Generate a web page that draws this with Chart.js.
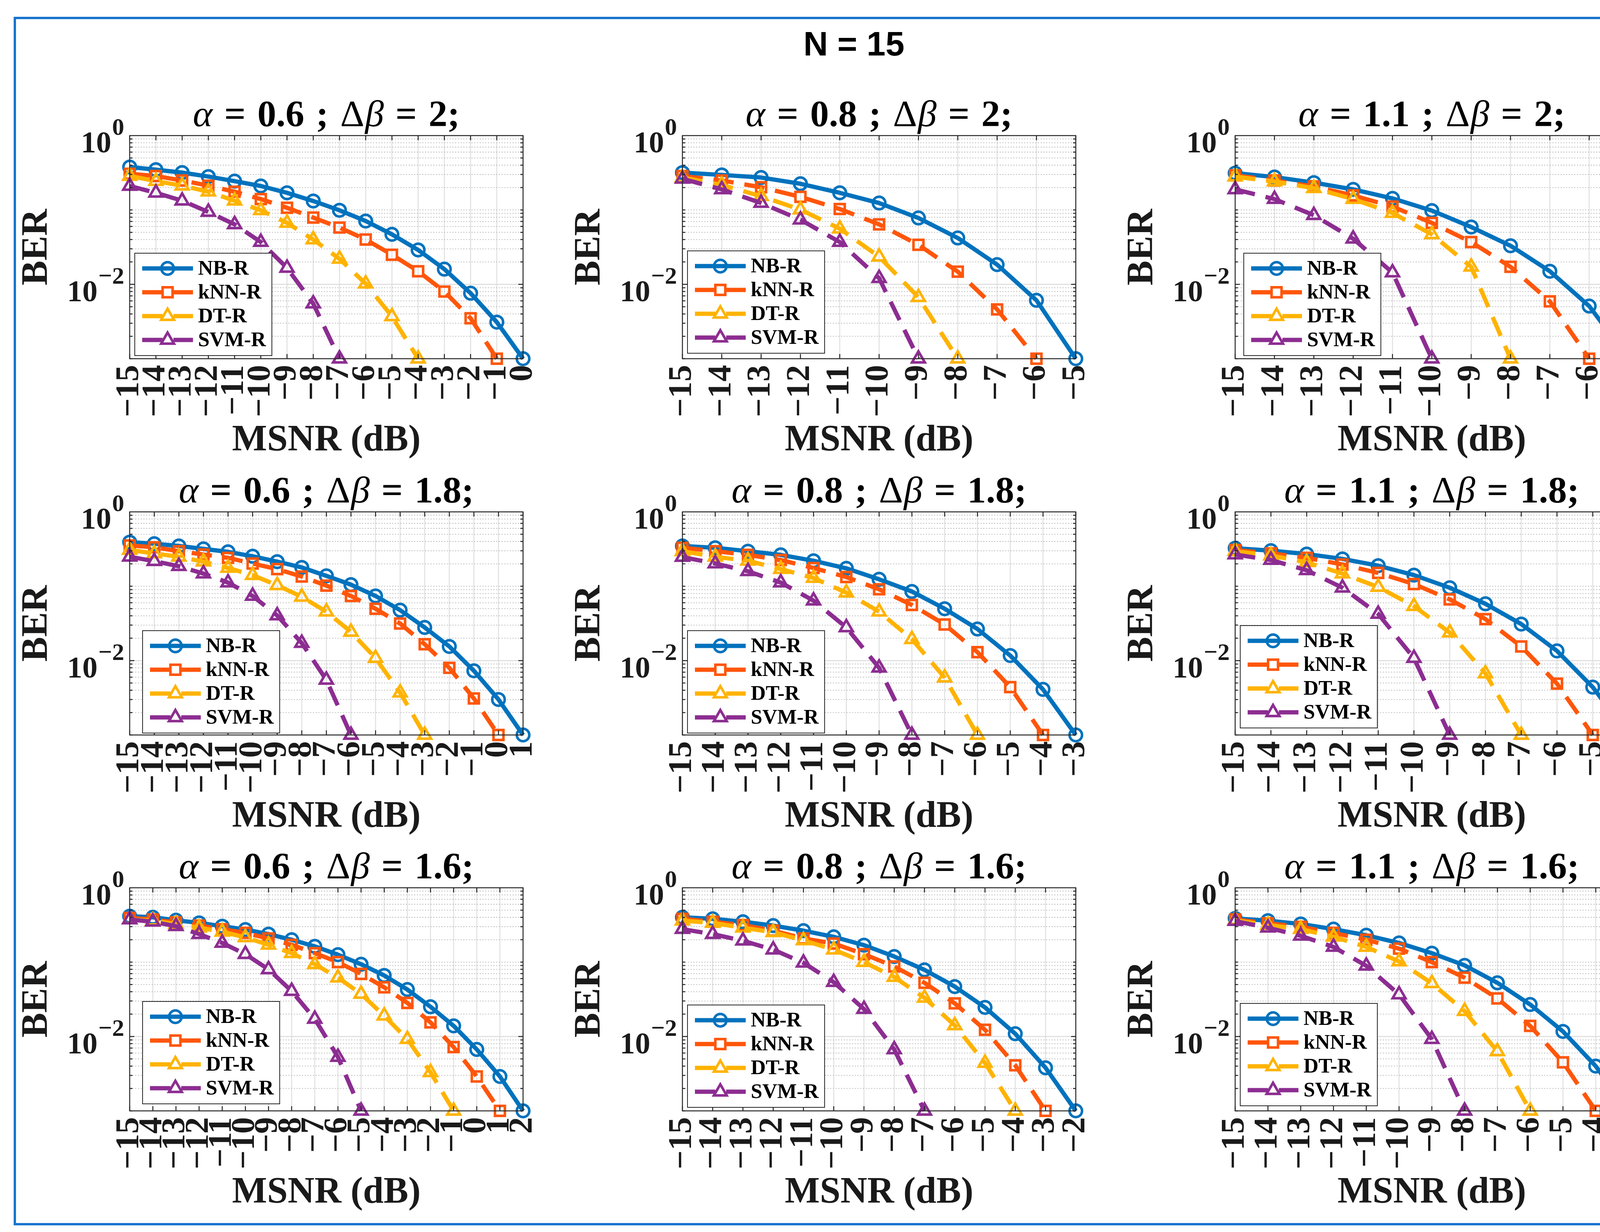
<!DOCTYPE html>
<html lang="en">
<head>
<meta charset="UTF-8">
<title>N = 15</title>
<style>
  html, body { margin: 0; padding: 0; background: #fff; }
  body { width: 4320px; height: 3153px; position: relative; overflow: hidden; }
  #frame { position: absolute; left: 35px; top: 43px; width: 4242px; height: 3093px;
           border: 6px solid #1874CD; box-sizing: border-box; }
  #mainTitle { position: absolute; left: 1886px; top: 68px; width: 600px; text-align: center;
               font: bold 87px "Liberation Sans", Arial, sans-serif; line-height: 87px; color: #000; }
  canvas.panel { position: absolute; }
</style>
</head>
<body>
<div id="frame"></div>
<div id="mainTitle">N = 15</div>

<script src="https://cdn.jsdelivr.net/npm/chart.js"></script>
<script>
// ---- MSNR (dB) categories, one list per panel ----
var msnr_06_20 = [-15, -14, -13, -12, -11, -10, -9, -8, -7, -6, -5, -4, -3, -2, -1, 0];
var msnr_08_20 = [-15, -14, -13, -12, -11, -10, -9, -8, -7, -6, -5];
var msnr_11_20 = [-15, -14, -13, -12, -11, -10, -9, -8, -7, -6, -5];
var msnr_06_18 = [-15, -14, -13, -12, -11, -10, -9, -8, -7, -6, -5, -4, -3, -2, -1, 0, 1];
var msnr_08_18 = [-15, -14, -13, -12, -11, -10, -9, -8, -7, -6, -5, -4, -3];
var msnr_11_18 = [-15, -14, -13, -12, -11, -10, -9, -8, -7, -6, -5, -4];
var msnr_06_16 = [-15, -14, -13, -12, -11, -10, -9, -8, -7, -6, -5, -4, -3, -2, -1, 0, 1, 2];
var msnr_08_16 = [-15, -14, -13, -12, -11, -10, -9, -8, -7, -6, -5, -4, -3, -2];
var msnr_11_16 = [-15, -14, -13, -12, -11, -10, -9, -8, -7, -6, -5, -4, -3];

// ---- BER values, alpha / delta beta in the name ----
// alpha = 0.6, dbeta = 2
var nb_06_20  = [0.378, 0.348, 0.318, 0.281, 0.244, 0.210, 0.170, 0.132, 0.099, 0.071, 0.047, 0.029, 0.016, 0.0076, 0.0031, 0.001];
var knn_06_20 = [0.307, 0.286, 0.249, 0.212, 0.176, 0.140, 0.107, 0.079, 0.058, 0.040, 0.025, 0.015, 0.0080, 0.0035, 0.001];
var dt_06_20  = [0.286, 0.244, 0.212, 0.176, 0.133, 0.099, 0.067, 0.040, 0.022, 0.0102, 0.0037, 0.001];
var svm_06_20 = [0.210, 0.170, 0.133, 0.094, 0.064, 0.037, 0.0166, 0.0055, 0.001];
// alpha = 0.8, dbeta = 2
var nb_08_20  = [0.318, 0.296, 0.273, 0.225, 0.170, 0.124, 0.078, 0.042, 0.0184, 0.0061, 0.001];
var knn_08_20 = [0.286, 0.249, 0.202, 0.150, 0.103, 0.064, 0.034, 0.0148, 0.0046, 0.001];
var dt_08_20  = [0.273, 0.217, 0.153, 0.101, 0.056, 0.0235, 0.0067, 0.001];
var svm_08_20 = [0.262, 0.189, 0.124, 0.074, 0.037, 0.0121, 0.001];
// alpha = 1.1, dbeta = 2
var nb_11_20  = [0.313, 0.277, 0.233, 0.189, 0.143, 0.098, 0.059, 0.033, 0.015, 0.0051, 0.001];
var knn_11_20 = [0.292, 0.249, 0.207, 0.157, 0.111, 0.067, 0.037, 0.0172, 0.0059, 0.001];
var dt_11_20  = [0.281, 0.241, 0.196, 0.140, 0.091, 0.047, 0.0172, 0.001];
var svm_11_20 = [0.189, 0.140, 0.085, 0.041, 0.0144, 0.001];
// alpha = 0.6, dbeta = 1.8
var nb_06_18  = [0.392, 0.373, 0.348, 0.318, 0.290, 0.253, 0.214, 0.179, 0.138, 0.105, 0.074, 0.0477, 0.0279, 0.0155, 0.0073, 0.0030, 0.001];
var knn_06_18 = [0.353, 0.334, 0.296, 0.267, 0.241, 0.202, 0.170, 0.135, 0.102, 0.074, 0.0498, 0.0315, 0.0166, 0.0080, 0.0031, 0.001];
var dt_06_18  = [0.307, 0.276, 0.249, 0.214, 0.176, 0.141, 0.103, 0.072, 0.0455, 0.0243, 0.0108, 0.0037, 0.001];
var svm_06_18 = [0.249, 0.217, 0.186, 0.148, 0.112, 0.074, 0.0404, 0.0172, 0.0055, 0.001];
// alpha = 0.8, dbeta = 1.8
var nb_08_18  = [0.348, 0.329, 0.296, 0.264, 0.220, 0.174, 0.124, 0.085, 0.0498, 0.0266, 0.0117, 0.0041, 0.001];
var knn_08_18 = [0.329, 0.296, 0.264, 0.225, 0.176, 0.133, 0.091, 0.056, 0.0306, 0.0130, 0.0044, 0.001];
var dt_08_18  = [0.296, 0.249, 0.220, 0.170, 0.129, 0.082, 0.0455, 0.0194, 0.0059, 0.001];
var svm_08_18 = [0.247, 0.202, 0.159, 0.112, 0.064, 0.0279, 0.0080, 0.001];
// alpha = 1.1, dbeta = 1.8
var nb_11_18  = [0.325, 0.301, 0.271, 0.233, 0.189, 0.141, 0.0955, 0.058, 0.031, 0.0135, 0.0044, 0.001];
var knn_11_18 = [0.307, 0.277, 0.241, 0.196, 0.151, 0.107, 0.0666, 0.0361, 0.0155, 0.0049, 0.001];
var dt_11_18  = [0.296, 0.258, 0.210, 0.148, 0.0976, 0.054, 0.0238, 0.0067, 0.001];
var svm_11_18 = [0.267, 0.225, 0.164, 0.0955, 0.0424, 0.0108, 0.001];
// alpha = 0.6, dbeta = 1.6
var nb_06_16  = [0.415, 0.401, 0.366, 0.337, 0.304, 0.274, 0.238, 0.200, 0.163, 0.126, 0.0936, 0.0662, 0.0428, 0.0251, 0.0139, 0.0067, 0.0029, 0.001];
var knn_06_16 = [0.393, 0.374, 0.342, 0.310, 0.277, 0.247, 0.208, 0.171, 0.132, 0.100, 0.0695, 0.0459, 0.0283, 0.0155, 0.0072, 0.0029, 0.001];
var dt_06_16  = [0.374, 0.361, 0.326, 0.290, 0.256, 0.215, 0.171, 0.132, 0.0936, 0.0618, 0.0373, 0.019, 0.0092, 0.0033, 0.001];
var svm_06_16 = [0.374, 0.349, 0.304, 0.238, 0.181, 0.128, 0.0799, 0.0408, 0.0172, 0.0053, 0.001];
// alpha = 0.8, dbeta = 1.6
var nb_08_16  = [0.401, 0.382, 0.349, 0.310, 0.265, 0.219, 0.169, 0.119, 0.0787, 0.0469, 0.0246, 0.0109, 0.0038, 0.001];
var knn_08_16 = [0.382, 0.349, 0.315, 0.265, 0.208, 0.178, 0.128, 0.0874, 0.0527, 0.0279, 0.0123, 0.0041, 0.001];
var dt_08_16  = [0.361, 0.337, 0.290, 0.252, 0.196, 0.147, 0.100, 0.063, 0.0331, 0.0141, 0.0044, 0.001];
var svm_08_16 = [0.278, 0.238, 0.194, 0.147, 0.098, 0.0538, 0.0234, 0.0067, 0.001];
// alpha = 1.1, dbeta = 1.6
var nb_11_16  = [0.387, 0.361, 0.326, 0.278, 0.230, 0.181, 0.132, 0.0904, 0.0527, 0.0269, 0.0117, 0.0040, 0.001];
var knn_11_16 = [0.374, 0.333, 0.298, 0.247, 0.200, 0.152, 0.100, 0.0618, 0.0325, 0.0139, 0.0045, 0.001];
var dt_11_16  = [0.366, 0.315, 0.278, 0.219, 0.160, 0.102, 0.052, 0.0219, 0.0063, 0.001];
var svm_11_16 = [0.356, 0.290, 0.226, 0.160, 0.0892, 0.0367, 0.0092, 0.001];

var alphaVals = ['0.6', '0.8', '1.1'];
var dBetaVals = ['2', '1.8', '1.6'];
var seriesNames = ['NB-R', 'kNN-R', 'DT-R', 'SVM-R'];
var yTickExps = [0, -2];

// ---- styling / layout ----
var SERIF = '"Liberation Serif", "Times New Roman", Times, serif';
var seriesColors = ['#0072BD', '#FF560A', '#FFB300', '#8C2D91'];
var seriesMarkers = ['circle', 'rect', 'triangle', 'triangle'];
var markerRadius = [16, 18, 19, 19];
var seriesDash = [[], [52, 28], [52, 28], [52, 28]];

var plotLeft = [332, 1747, 3162];
var plotTop = [347, 1310, 2272];
var plotW = 1065, plotH = 571;
var padL = 320, padT = 120, padR = 60, padB = 10, xAxisH = 270;
// legend box offset from the lower-left corner of each axes (MATLAB "best" spot)
var legendDx = [13, 13, 22, 33, 13, 13, 33, 13, 13];
var legendDy = [8, 14, 8, 5, 5, 18, 18, 9, 13];

var panels = [
    {msnr: msnr_06_20, s: [nb_06_20, knn_06_20, dt_06_20, svm_06_20]},
    {msnr: msnr_08_20, s: [nb_08_20, knn_08_20, dt_08_20, svm_08_20]},
    {msnr: msnr_11_20, s: [nb_11_20, knn_11_20, dt_11_20, svm_11_20]},
    {msnr: msnr_06_18, s: [nb_06_18, knn_06_18, dt_06_18, svm_06_18]},
    {msnr: msnr_08_18, s: [nb_08_18, knn_08_18, dt_08_18, svm_08_18]},
    {msnr: msnr_11_18, s: [nb_11_18, knn_11_18, dt_11_18, svm_11_18]},
    {msnr: msnr_06_16, s: [nb_06_16, knn_06_16, dt_06_16, svm_06_16]},
    {msnr: msnr_08_16, s: [nb_08_16, knn_08_16, dt_08_16, svm_08_16]},
    {msnr: msnr_11_16, s: [nb_11_16, knn_11_16, dt_11_16, svm_11_16]}
];

// MATLAB-looking axes: grid, box, inward ticks, texts and legend
var matlabAxes = {
    id: 'matlabAxes',
    beforeDatasetsDraw: function(chart) {
        var ctx = chart.ctx, a = chart.chartArea, xs = chart.scales.x, ys = chart.scales.y;
        var n = chart.data.labels.length;
        ctx.save();
        // x grid
        ctx.strokeStyle = '#e0e0e0';
        ctx.lineWidth = 2.5;
        for (var i = 1; i < n - 1; i++) {
            var px = xs.getPixelForValue(i);
            ctx.beginPath(); ctx.moveTo(px, a.top); ctx.lineTo(px, a.bottom); ctx.stroke();
        }
        // minor y grid (dotted)
        ctx.strokeStyle = '#b9b9b9';
        ctx.lineWidth = 1.8;
        ctx.setLineDash([3, 4]);
        for (var e = -3; e < 0; e++) {
            for (var m = 1; m < 10; m++) {
                if (m === 1 && (e === -3 || e === -2)) continue;
                var py = ys.getPixelForValue(m * Math.pow(10, e));
                ctx.beginPath(); ctx.moveTo(a.left, py); ctx.lineTo(a.right, py); ctx.stroke();
            }
        }
        // major y grid
        ctx.setLineDash([]);
        ctx.strokeStyle = '#dcdcdc';
        ctx.lineWidth = 2.5;
        var p2 = ys.getPixelForValue(0.01);
        ctx.beginPath(); ctx.moveTo(a.left, p2); ctx.lineTo(a.right, p2); ctx.stroke();
        ctx.restore();
    },
    afterDatasetsDraw: function(chart, args, opts) {
        var ctx = chart.ctx, a = chart.chartArea, xs = chart.scales.x, ys = chart.scales.y;
        var n = chart.data.labels.length;
        ctx.save();
        ctx.strokeStyle = '#262626';
        ctx.lineWidth = 2.5;
        ctx.strokeRect(a.left, a.top, a.right - a.left, a.bottom - a.top);
        // x ticks, top and bottom
        ctx.beginPath();
        for (var i = 0; i < n; i++) {
            var px = xs.getPixelForValue(i);
            ctx.moveTo(px, a.bottom); ctx.lineTo(px, a.bottom - 12);
            ctx.moveTo(px, a.top); ctx.lineTo(px, a.top + 12);
        }
        // y ticks, left and right
        for (var e = -3; e < 0; e++) {
            for (var m = 1; m < 10; m++) {
                var len = (m === 1 && e % 2 === 0) ? 12 : 7;
                var py = ys.getPixelForValue(m * Math.pow(10, e));
                ctx.moveTo(a.left, py); ctx.lineTo(a.left + len, py);
                ctx.moveTo(a.right, py); ctx.lineTo(a.right - len, py);
            }
        }
        ctx.stroke();

        // legend
        var bx = a.left + opts.legendDx, bw = 351, bh = 262;
        var by = a.bottom - opts.legendDy - bh;
        ctx.fillStyle = '#fff';
        ctx.fillRect(bx, by, bw, bh);
        ctx.lineWidth = 2;
        ctx.strokeRect(bx, by, bw, bh);
        chart.data.datasets.forEach(function(ds, k) {
            var ry = by + 39 + 61 * k;
            ctx.save();
            ctx.strokeStyle = ds.borderColor;
            ctx.lineWidth = ds.borderWidth;
            ctx.setLineDash(ds.borderDash);
            ctx.beginPath(); ctx.moveTo(bx + 19, ry); ctx.lineTo(bx + 149, ry); ctx.stroke();
            ctx.setLineDash([]);
            ctx.fillStyle = 'rgba(0,0,0,0)';
            ctx.lineWidth = ds.pointBorderWidth;
            Chart.helpers.drawPoint(ctx, {pointStyle: ds.pointStyle, rotation: 0, radius: ds.pointRadius,
                                          borderWidth: ds.pointBorderWidth}, bx + 84, ry);
            ctx.restore();
            ctx.fillStyle = '#000';
            ctx.font = 'bold 53px ' + SERIF;
            ctx.textAlign = 'left';
            ctx.textBaseline = 'middle';
            ctx.fillText(ds.label, bx + 162, ry + 2);
        });

        // y tick labels 10^k
        ctx.fillStyle = '#1a1a1a';
        ctx.textAlign = 'left';
        ctx.textBaseline = 'alphabetic';
        yTickExps.forEach(function(ex) {
            var ty = ys.getPixelForValue(Math.pow(10, ex));
            var sup = ex === 0 ? '0' : '\u2212' + (-ex);
            ctx.font = 'bold 62px ' + SERIF;
            var sw = ctx.measureText(sup).width;
            ctx.font = 'bold 78px ' + SERIF;
            var tw = ctx.measureText('10').width;
            var x0 = a.left - 14 - sw - tw - 2;
            ctx.fillText('10', x0, ty + 43);
            ctx.font = 'bold 62px ' + SERIF;
            ctx.fillText(sup, x0 + tw + 2, ty - 2);
        });

        // axis labels
        var cx = (a.left + a.right) / 2, cy = (a.top + a.bottom) / 2;
        ctx.textAlign = 'center';
        ctx.textBaseline = 'middle';
        ctx.font = 'bold 95px ' + SERIF;
        ctx.fillText('MSNR (dB)', cx, a.bottom + 210);
        ctx.save();
        ctx.translate(a.left - 237, cy);
        ctx.rotate(-Math.PI / 2);
        ctx.fillText('BER', 0, 0);
        ctx.restore();

        // panel title: alpha = .. ; delta beta = ..;  (TeX-like spacing between tokens)
        var it = 'italic 96px ' + SERIF, bd = 'bold 96px ' + SERIF, rg = '96px ' + SERIF;
        var toks = [
            [it, '\u03b1', 30], [bd, '=', 30], [bd, opts.alpha, 30], [bd, ';', 30],
            [rg, '\u0394', 2], [it, '\u03b2', 30], [bd, '=', 30], [bd, opts.dBeta + ';', 0]
        ];
        var total = 0;
        toks.forEach(function(t) { ctx.font = t[0]; total += ctx.measureText(t[1]).width + t[2]; });
        var tx = cx - total / 2;
        ctx.fillStyle = '#000';
        ctx.textAlign = 'left';
        ctx.textBaseline = 'alphabetic';
        toks.forEach(function(t) {
            ctx.font = t[0];
            ctx.fillText(t[1], tx, a.top - 24);
            tx += ctx.measureText(t[1]).width + t[2];
        });
        ctx.restore();
    }
};

panels.forEach(function(p, idx) {
    var r = Math.floor(idx / 3), c = idx % 3;
    var canvas = document.createElement('canvas');
    canvas.className = 'panel';
    canvas.width = padL + plotW + padR;
    canvas.height = padT + plotH + xAxisH + padB;
    canvas.style.left = (plotLeft[c] - padL) + 'px';
    canvas.style.top = (plotTop[r] - padT) + 'px';
    document.body.appendChild(canvas);

    var datasets = p.s.map(function(vals, k) {
        return {
            label: seriesNames[k],
            data: vals,
            borderColor: seriesColors[k],
            backgroundColor: 'rgba(0,0,0,0)',
            borderWidth: 11,
            borderDash: seriesDash[k],
            borderJoinStyle: 'round',
            pointStyle: seriesMarkers[k],
            pointRadius: markerRadius[k],
            pointBorderWidth: 6.5,
            pointBorderColor: seriesColors[k],
            pointBackgroundColor: 'rgba(0,0,0,0)',
            fill: false,
            tension: 0,
            clip: false,
            order: 3 - k
        };
    });

    new Chart(canvas.getContext('2d'), {
        type: 'line',
        data: {labels: p.msnr.map(String), datasets: datasets},
        options: {
            responsive: false,
            animation: false,
            devicePixelRatio: 1,
            events: [],
            layout: {padding: {left: 0, top: padT, right: padR, bottom: padB}},
            plugins: {
                legend: {display: false},
                title: {display: false},
                tooltip: {enabled: false},
                matlabAxes: {
                    alpha: alphaVals[c],
                    dBeta: dBetaVals[r],
                    legendDx: legendDx[idx],
                    legendDy: legendDy[idx]
                }
            },
            scales: {
                x: {
                    type: 'category',
                    offset: false,
                    grid: {display: false, drawTicks: false},
                    border: {display: false},
                    ticks: {
                        autoSkip: false,
                        minRotation: 90,
                        maxRotation: 90,
                        padding: 16,
                        color: '#1a1a1a',
                        font: {family: SERIF, size: 85, weight: 'bold'},
                        callback: function(value) {
                            return String(this.getLabelForValue(value)).replace('-', '\u2212');
                        }
                    },
                    afterFit: function(scale) { scale.height = xAxisH; }
                },
                y: {
                    type: 'logarithmic',
                    min: 0.001,
                    max: 1,
                    grid: {display: false, drawTicks: false},
                    border: {display: false},
                    ticks: {display: false},
                    afterFit: function(scale) { scale.width = padL; }
                }
            }
        },
        plugins: [matlabAxes]
    });
});
</script>
</body>
</html>
